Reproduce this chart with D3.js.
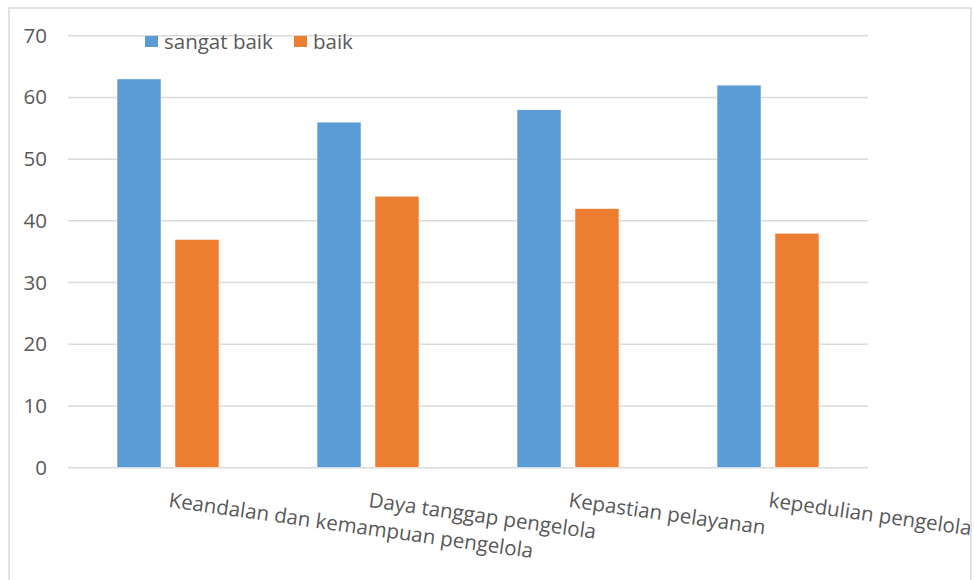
<!DOCTYPE html>
<html>
<head>
<meta charset="utf-8">
<script src="https://cdn.jsdelivr.net/npm/d3@7"></script>
<style>
  body { margin: 0; background: #fff; }
  text { font-family: "Open Sans", sans-serif; fill: #595959; }
</style>
</head>
<body>
<div class="svg-container"></div>
<script>
// chart data
const categories = ['Keandalan dan kemampuan pengelola', 'Daya tanggap pengelola', 'Kepastian pelayanan', 'kepedulian pengelola'];
const seriesNames = ['sangat baik', 'baik'];
const sangatBaik = [63, 56, 58, 62];
const baik = [37, 44, 42, 38];
const yTicks = [0, 10, 20, 30, 40, 50, 60, 70];
const colours = ['#5b9bd5', '#ed7d31'];

const width = 974;
const height = 580;
const fontSize = '20.5px';

const rows = categories.map((c, i) => ({ name: c, values: [sangatBaik[i], baik[i]] }));

const svg = d3.select('.svg-container')
  .append('svg')
  .attr('width', width)
  .attr('height', height)

// clip so the last label is cut by the frame like the original
svg.append('clipPath')
  .attr('id', 'frame-clip')
  .append('rect')
  .attr('x', 0)
  .attr('y', 0)
  .attr('width', 970)
  .attr('height', height)

// outer frame
svg.append('rect')
  .attr('x', 9)
  .attr('y', 8)
  .attr('width', 962)
  .attr('height', 600)
  .attr('fill', 'none')
  .attr('stroke', '#d9d9d9')
  .attr('stroke-width', 1.5)

// scales
const x0 = d3.scaleBand()
  .domain(categories)
  .range([68, 868])
  .paddingInner(0.49)
  .paddingOuter(0.245)

const x1 = d3.scaleBand()
  .domain(seriesNames)
  .range([0, x0.bandwidth()])
  .paddingInner(0.24)

const y = d3.scaleLinear()
  .domain([0, 70])
  .range([467.7, 35.7])

// gridlines
svg.append('g')
  .selectAll('line')
  .data(yTicks)
  .enter()
  .append('line')
  .attr('x1', 68)
  .attr('x2', 868)
  .attr('y1', d => y(d))
  .attr('y2', d => y(d))
  .attr('stroke', '#d9d9d9')
  .attr('stroke-width', 1.5)

// y axis labels
const yAxis = svg.append('g')
  .attr('transform', 'translate(47,0)')
  .call(d3.axisLeft(y).tickValues(yTicks).tickSize(0).tickPadding(0))
yAxis.select('.domain').remove()
yAxis.selectAll('text')
  .style('font-size', fontSize)
  .style('font-family', '"Open Sans", sans-serif')
  .attr('fill', '#595959')

// bars
const groups = svg.append('g')
  .selectAll('g')
  .data(rows)
  .enter()
  .append('g')
  .attr('transform', d => `translate(${x0(d.name)},0)`)

groups.selectAll('rect')
  .data(d => d.values.map((v, i) => ({ key: seriesNames[i], value: v, idx: i })))
  .enter()
  .append('rect')
  .attr('x', d => x1(d.key))
  .attr('y', d => y(d.value))
  .attr('width', x1.bandwidth())
  .attr('height', d => y(0) - y(d.value))
  .attr('fill', d => colours[d.idx])
  .attr('stroke', '#fff')
  .attr('stroke-width', 0.6)

// category labels, slightly slanted
svg.append('g')
  .attr('clip-path', 'url(#frame-clip)')
  .selectAll('text')
  .data(categories)
  .enter()
  .append('text')
  .attr('transform', d => `translate(${x0(d) + x0.bandwidth() / 2},507) rotate(8)`)
  .style('font-size', fontSize)
  .text(d => d)

// legend
const legend = svg.append('g')
  .selectAll('g')
  .data(seriesNames)
  .enter()
  .append('g')
  .attr('transform', (d, i) => `translate(${i === 0 ? 145 : 294},36)`)

legend.append('rect')
  .attr('width', 13)
  .attr('height', 11)
  .attr('fill', (d, i) => colours[i])

legend.append('text')
  .attr('x', 19)
  .attr('y', 13)
  .style('font-size', fontSize)
  .text(d => d)
</script>
</body>
</html>
